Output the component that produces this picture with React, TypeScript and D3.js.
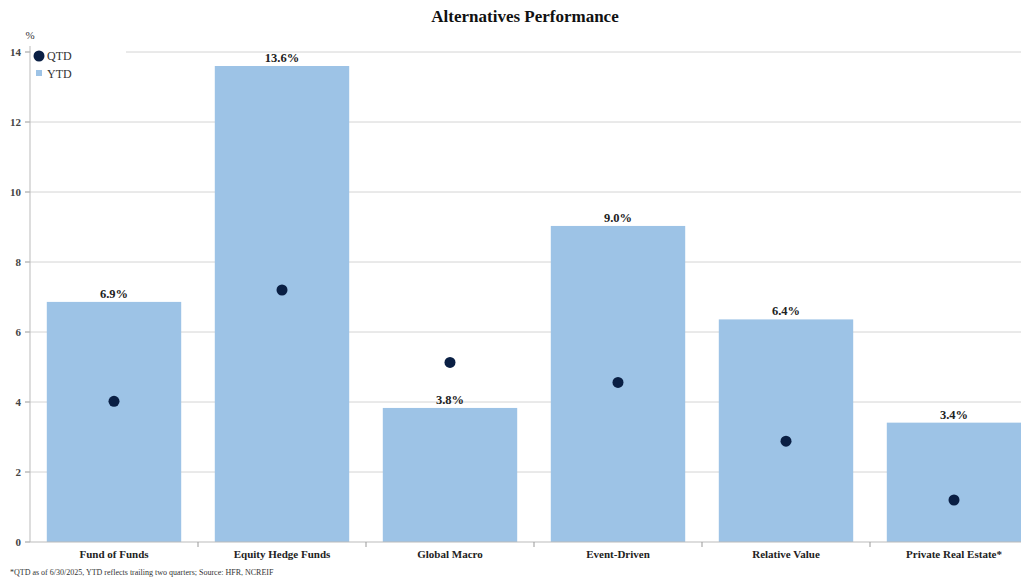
import React from "react";
import * as d3 from "d3";

const categories = ["Fund of Funds", "Equity Hedge Funds", "Global Macro", "Event-Driven", "Relative Value", "Private Real Estate*"];
const ytdValues = [6.86, 13.6, 3.83, 9.03, 6.36, 3.41];
const qtdValues = [4.02, 7.2, 5.13, 4.56, 2.88, 1.2];
const yTicks = [0, 2, 4, 6, 8, 10, 12, 14];

const W = 1021, H = 577;
const FONT = "'Liberation Serif', 'DejaVu Serif', serif";

export default function App() {
  const left = 30, top = 52, bottom = 542;
  const step = 168;
  const x = d3.scaleBand<string>().domain(categories).range([left, left + step * categories.length]).paddingInner(0.2).paddingOuter(0.1);
  const y = d3.scaleLinear().domain([0, 14]).range([bottom, top]);
  const plotRight = W;
  const bw = x.bandwidth();

  return (
    <svg width={W} height={H} style={{ position: "absolute", left: 0, top: 0, background: "#fff" }} fontFamily={FONT}>
      <text x={525} y={22} textAnchor="middle" fontSize={17} fontWeight="bold" fill="#111">Alternatives Performance</text>
      <text x={30} y={39} textAnchor="middle" fontSize={11} fill="#333">%</text>
      {yTicks.map(t => (
        <g key={t}>
          {t > 0 && <line x1={left} x2={plotRight} y1={y(t)} y2={y(t)} stroke="#d4d4d4" strokeWidth={1} />}
          <line x1={left - 5} x2={left} y1={y(t)} y2={y(t)} stroke="#999" />
          <text x={left - 9} y={y(t) + 4} textAnchor="end" fontSize={11} fontWeight="bold" fill="#444">{t}</text>
        </g>
      ))}
      {categories.map((c, i) => (
        <rect key={c} x={x(c)} y={y(ytdValues[i])} width={bw} height={y(0) - y(ytdValues[i])} fill="#9dc3e6" />
      ))}
      {categories.map((c, i) => (
        <text key={c + "l"} x={(x(c) as number) + bw / 2} y={y(ytdValues[i]) - 4} textAnchor="middle" fontSize={12.5} fontWeight="bold" fill="#222">{ytdValues[i].toFixed(1)}%</text>
      ))}
      {categories.map((c, i) => (
        <circle key={c + "d"} cx={(x(c) as number) + bw / 2} cy={y(qtdValues[i])} r={5.5} fill="#0a1f44" />
      ))}
      <line x1={left} x2={left} y1={top - 6} y2={bottom} stroke="#bbb" />
      <line x1={left} x2={plotRight} y1={bottom} y2={bottom} stroke="#bbb" />
      {categories.map((c, i) => (
        <line key={c + "t"} x1={(x(c) as number) + bw + x.step() * 0.1} x2={(x(c) as number) + bw + x.step() * 0.1} y1={bottom} y2={bottom + 5} stroke="#999" />
      ))}
      {categories.map((c) => (
        <text key={c + "x"} x={(x(c) as number) + bw / 2} y={558} textAnchor="middle" fontSize={11} fontWeight="bold" fill="#222">{c}</text>
      ))}
      <rect x={31} y={45} width={95} height={40} fill="#fff" />
      <circle cx={39} cy={56} r={5.5} fill="#0a1f44" />
      <text x={47} y={60} fontSize={12} fill="#333">QTD</text>
      <rect x={36} y={70} width={6} height={6} fill="#9dc3e6" />
      <text x={47} y={78} fontSize={12} fill="#333">YTD</text>
      <text x={10} y={575} fontSize={8} fill="#333">*QTD as of 6/30/2025, YTD reflects trailing two quarters; Source: HFR, NCREIF</text>
    </svg>
  );
}
